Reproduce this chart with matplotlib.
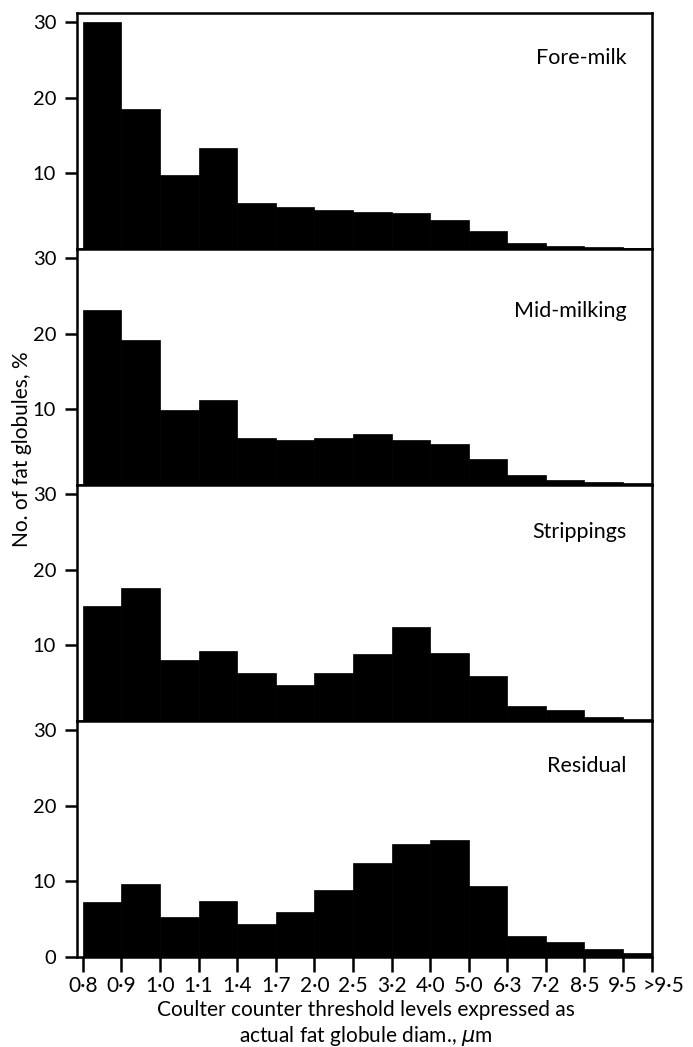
import matplotlib
matplotlib.use("Agg")
import matplotlib.pyplot as plt
from matplotlib.transforms import offset_copy

plt.rcParams["font.family"] = ["Lato", "DejaVu Sans"]

# threshold levels (um) and % of fat globules in each size class
thresholds = ["0·8", "0·9", "1·0", "1·1", "1·4", "1·7", "2·0", "2·5", "3·2",
              "4·0", "5·0", "6·3", "7·2", "8·5", "9·5", ">9·5"]
panel_names = ["Fore-milk", "Mid-milking", "Strippings", "Residual"]
fore_milk = [30.0, 18.5, 9.8, 13.3, 6.1, 5.5, 5.1, 4.9, 4.8, 3.9, 2.4, 0.8, 0.4, 0.2, 0.1]
mid_milking = [23.2, 19.2, 9.9, 11.3, 6.2, 5.9, 6.2, 6.8, 6.0, 5.4, 3.4, 1.3, 0.6, 0.4, 0.25]
strippings = [15.2, 17.6, 8.0, 9.2, 6.3, 4.8, 6.4, 8.9, 12.4, 9.0, 5.9, 2.0, 1.5, 0.5, 0.3]
residual = [7.3, 9.7, 5.3, 7.4, 4.4, 5.9, 8.9, 12.4, 14.9, 15.5, 9.4, 2.8, 2.0, 1.0, 0.5]
series = [fore_milk, mid_milking, strippings, residual]

# class edges on an even (ordinal) axis; the open-ended last class is drawn narrower
edges = list(range(len(thresholds) - 1)) + [14.75]
widths = [edges[i + 1] - edges[i] for i in range(len(edges) - 1)]

W, H = 693, 1047
fig = plt.figure(figsize=(W / 100, H / 100), dpi=100)

left, right = 77 / W, 652 / W
top_px, bot_px = 13, 957
ph = (bot_px - top_px) / 4
label_y = [25.2, 23.0, 25.0, 25.2]

for k, (name, vals) in enumerate(zip(panel_names, series)):
    y0 = 1 - (top_px + (k + 1) * ph) / H
    ax = fig.add_axes([left, y0, right - left, ph / H])
    ax.bar(edges[:-1], vals, width=widths, align="edge", color="black",
           edgecolor="black", linewidth=0.5)
    ax.set_xlim(-0.15, 14.75)
    ax.set_ylim(0, 31.2)
    for s in ax.spines.values():
        s.set_linewidth(1.8)
    if k < 3:
        ax.set_yticks([10, 20, 30])
        ax.set_xticks([])
    else:
        ax.set_yticks([0, 10, 20, 30])
        ax.set_xticks(edges)
        ax.set_xticklabels(thresholds, fontsize=15)
        ax.tick_params(axis="x", direction="out", length=11, width=1.8, pad=3)
        last = ax.get_xticklabels()[-1]
        last.set_ha("left")
        last.set_transform(offset_copy(last.get_transform(), fig=fig, x=-9, units="dots"))
    ax.tick_params(axis="y", direction="out", length=9, width=1.8, labelsize=14.5, pad=6)
    ax.text(0.955, label_y[k], name, transform=ax.get_yaxis_transform(),
            ha="right", va="center", fontsize=15.5)

fig.text(22 / W, 1 - 449 / H, "No. of fat globules, %", rotation=90,
         ha="center", va="center", fontsize=15)
fig.text(366 / W, 1 - 1024 / H,
         "Coulter counter threshold levels expressed as\nactual fat globule diam., $\\mu$m",
         ha="center", va="center", fontsize=15, linespacing=1.2)

fig.savefig("out.png", dpi=100)
